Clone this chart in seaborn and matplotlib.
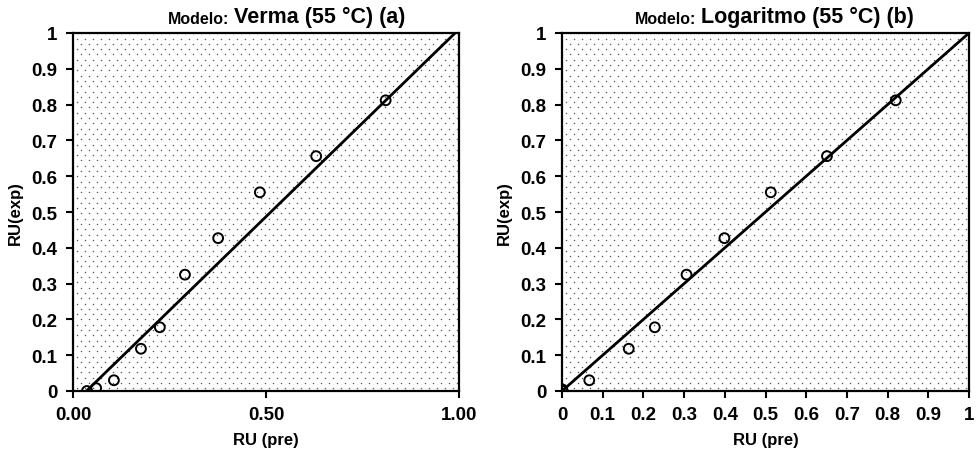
import numpy as np
import pandas as pd
import matplotlib
matplotlib.use("Agg")
import matplotlib.pyplot as plt
import seaborn as sns

# valeurs
ru_exp = [0.0, 0.008, 0.03, 0.118, 0.178, 0.325, 0.427, 0.555, 0.656, 0.812]
ru_pre_verma = [0.036, 0.06, 0.106, 0.176, 0.225, 0.29, 0.376, 0.484, 0.63, 0.81]
ru_pre_log = [0.0, 0.002, 0.067, 0.164, 0.228, 0.306, 0.399, 0.513, 0.651, 0.82]
ru_exp_log = [0.005, 0.0, 0.03, 0.118, 0.178, 0.325, 0.427, 0.555, 0.656, 0.812]

line_verma_x = [0.035, 0.99]
line_verma_y = [0.0, 1.0]
line_log_x = [0.0, 1.0]
line_log_y = [0.0, 1.0]

titles = ["Verma (55 °C) (a)", "Logaritmo (55 °C) (b)"]
yticks = [0, 0.1, 0.2, 0.3, 0.4, 0.5, 0.6, 0.7, 0.8, 0.9, 1]
ytick_labels = ["0", "0.1", "0.2", "0.3", "0.4", "0.5", "0.6", "0.7", "0.8", "0.9", "1"]
xticks_a = [0, 0.5, 1]
xtick_labels_a = ["0.00", "0.50", "1.00"]

sns.set_style("ticks")
plt.rcParams['font.family'] = ['Liberation Sans', 'DejaVu Sans']
plt.rcParams['font.weight'] = 'bold'
plt.rcParams['text.color'] = 'black'
plt.rcParams['axes.labelcolor'] = 'black'
plt.rcParams['xtick.color'] = 'black'
plt.rcParams['ytick.color'] = 'black'

W, H = 977, 456
fig = plt.figure(figsize=(W / 100, H / 100), dpi=100)
ax1 = fig.add_axes([73 / W, 64 / H, 386 / W, 358 / H])
ax2 = fig.add_axes([562 / W, 64 / H, 407 / W, 358 / H])

df_a = pd.DataFrame({"pre": ru_pre_verma, "exp": ru_exp})
df_b = pd.DataFrame({"pre": ru_pre_log, "exp": ru_exp_log})


def fond_pointille(ax, wpx, hpx, dx=8.0, dy=5.3):
    # trame de points du fond (décor)
    xs, ys = [], []
    for i, yy in enumerate(np.arange(dy / 2, hpx, dy)):
        off = dx / 2 if i % 2 else 0
        for xx in np.arange(dx / 2 + off, wpx, dx):
            xs.append(xx / wpx)
            ys.append(yy / hpx)
    ax.scatter(xs, ys, s=1.1, color='#555555', linewidths=0,
               transform=ax.transAxes, zorder=0, clip_on=True)


for ax, df, lx, ly, title, wpx, split in [
        (ax1, df_a, line_verma_x, line_verma_y, titles[0], 386, 0.404),
        (ax2, df_b, line_log_x, line_log_y, titles[1], 407, 0.33)]:
    fond_pointille(ax, wpx, 358)
    sns.lineplot(x=lx, y=ly, ax=ax, color='black', lw=2.0, zorder=3)
    sns.scatterplot(data=df, x="pre", y="exp", ax=ax, marker='o', s=50,
                    facecolor='none', edgecolor='black', linewidth=1.4, zorder=4)
    ax.set_xlim(0, 1)
    ax.set_ylim(0, 1)
    ax.set_yticks(yticks)
    ax.set_yticklabels(ytick_labels, fontsize=13.5, fontweight='bold')
    ax.set_xlabel("RU (pre)", fontsize=12, fontweight='bold', labelpad=6)
    ax.set_ylabel("RU(exp)", fontsize=12, fontweight='bold', labelpad=6)
    for s in ax.spines.values():
        s.set_visible(True)
        s.set_linewidth(1.6)
        s.set_color('black')
    ax.tick_params(direction='out', length=5, width=1.5, colors='black', pad=6)
    # titre en deux morceaux
    ax.text(split, 1.02, "Modelo:", transform=ax.transAxes, ha='right', va='bottom',
            fontsize=11.5, fontweight='bold')
    ax.text(split + 0.012, 1.017, title, transform=ax.transAxes, ha='left', va='bottom',
            fontsize=15.5, fontweight='bold')

ax1.set_xticks(xticks_a)
ax1.set_xticklabels(xtick_labels_a, fontsize=13.5, fontweight='bold')
ax2.set_xticks(yticks)
ax2.set_xticklabels(ytick_labels, fontsize=13.5, fontweight='bold')

fig.savefig("out.png", dpi=100)
